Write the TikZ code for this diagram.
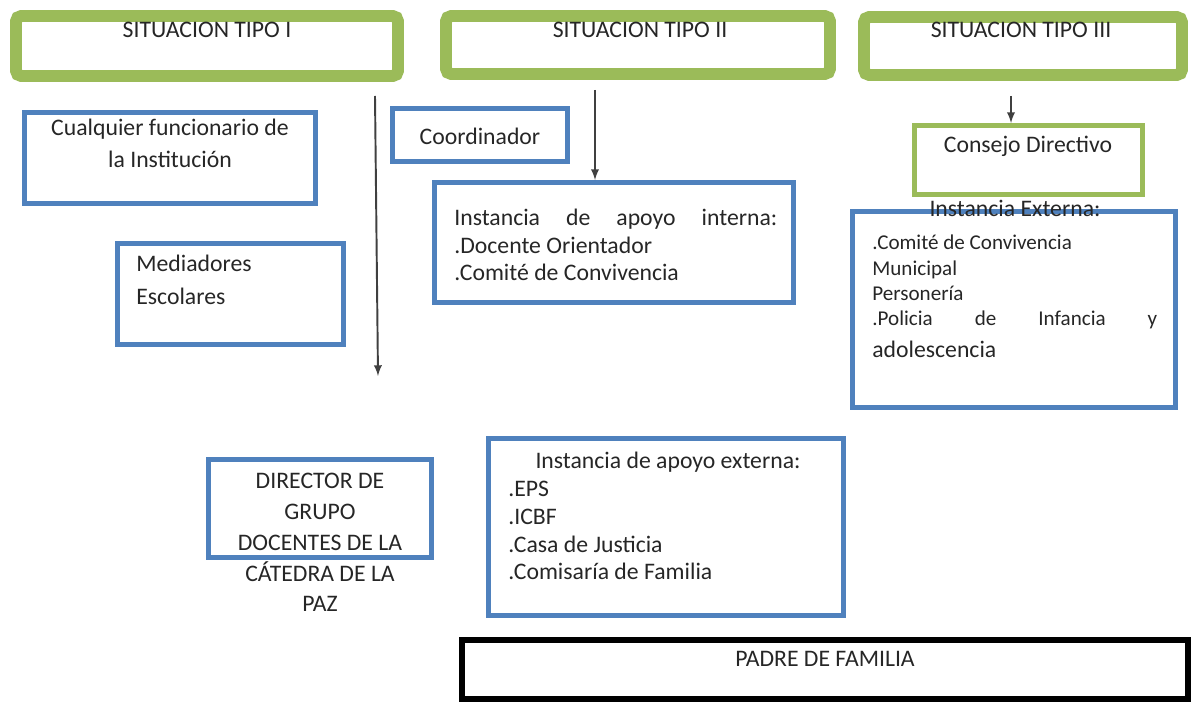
\documentclass[tikz,border=0pt]{standalone}
\usepackage{fontspec}
\setmainfont{Carlito}
\usetikzlibrary{arrows,fit}
\definecolor{tipogreen}{HTML}{9BBB59}
\definecolor{tipoblue}{HTML}{4F81BD}

\begin{document}
\begin{tikzpicture}[x=0.02cm,y=-0.02cm,
  tipo/.style={draw=tipogreen,line width=6.8pt,rounded corners=3pt,inner sep=0pt},
  caja/.style={draw=tipoblue,line width=2.8pt,inner sep=0pt},
  txt/.style={inner sep=0pt,text=black!85,font=\fontsize{13.5}{16}\selectfont},
  flecha/.style={draw=black!75,line width=1.1pt,-latex}]
  \useasboundingbox (0,0) rectangle (1191,702);

  % situaciones
  \node[tipo,fit={(16,16) (398,76)}] (tipo-1) {};
  \node[tipo,fit={(446,16) (830,74)}] (tipo-2) {};
  \node[tipo,fit={(864,17) (1182,75)}] (tipo-3) {};
  \node[txt,anchor=base] (tipo-1-txt) at (207,38) {SITUACION TIPO I};
  \node[txt,anchor=base] (tipo-2-txt) at (640,38) {SITUACION TIPO II};
  \node[txt,anchor=base] (tipo-3-txt) at (1021,38) {SITUACION TIPO III};

  % cajas
  \node[caja,fit={(24.5,112.5) (315.5,203.5)}] (funcionario) {};
  \node[caja,fit={(117.5,243.5) (343.5,344.5)}] (mediadores) {};
  \node[caja,fit={(392.5,108.5) (567.5,161.5)}] (coordinador) {};
  \node[caja,fit={(434.5,182.5) (793.5,302.5)}] (interna) {};
  \node[caja,draw=tipogreen,fit={(914.5,125.5) (1142.5,194.5)}] (consejo) {};
  \node[caja,fit={(852.5,211.5) (1175.5,407.5)}] (externa) {};
  \node[caja,fit={(208.5,459.5) (431.5,557.5)}] (director) {};
  \node[caja,fit={(488.5,438.5) (843.5,615.5)}] (apoyo-ext) {};
  \node[draw=black,line width=3.4pt,inner sep=0pt,fit={(462,640) (1188,699)}] (padre) {};

  % flechas
  \coordinate (f1-a) at (375,96);
  \coordinate (f1-b) at (378,376);
  \coordinate (f2) at (595,90);
  \coordinate (f3) at (1011,96);
  \draw[flecha] (f1-a) -- (f1-b);
  \draw[flecha] (f2) -- (f2 |- interna.north);
  \draw[flecha] (f3) -- (f3 |- consejo.north);

  % textos (base = ultima linea)
  \node[txt,align=center,anchor=base,font=\fontsize{13.5}{18.7}\selectfont] (funcionario-txt) at (170,168)
    {Cualquier funcionario de\\la Institución};
  \node[txt,align=left,anchor=base west,font=\fontsize{13.5}{19.3}\selectfont] (mediadores-txt) at (136,305)
    {Mediadores\\Escolares};
  \node[txt,anchor=base] (coordinador-txt) at (480,145) {Coordinador};
  \node[txt,align=left,anchor=base west,font=\fontsize{13.5}{15.9}\selectfont] (interna-txt) at (454,281)
    {\makebox[6.46cm][s]{Instancia de apoyo interna:}\\.Docente Orientador\\.Comité de Convivencia};
  \node[txt,anchor=base] (consejo-txt) at (1028,153) {Consejo Directivo};
  \node[txt,anchor=base] (externa-txt) at (1015,217) {Instancia Externa:};
  \node[txt,align=left,anchor=base west,font=\fontsize{12}{14.5}\selectfont] (externa-lista) at (872,326)
    {.Comité de Convivencia\\Municipal\\Personería\\\makebox[5.7cm][s]{.Policia de Infancia y}};
  \node[txt,anchor=base west] (externa-fin) at (872,358) {adolescencia};
  \node[txt,align=center,anchor=base,font=\fontsize{13.5}{17.6}\selectfont] (director-txt) at (320,612)
    {DIRECTOR DE\\GRUPO\\DOCENTES DE LA\\CÁTEDRA DE LA\\PAZ};
  \node[txt,anchor=base] (apoyo-ext-txt) at (668,469) {Instancia de apoyo externa:};
  \node[txt,align=left,anchor=base west,font=\fontsize{13.5}{15.9}\selectfont] (apoyo-ext-lista) at (508,580)
    {.EPS\\.ICBF\\.Casa de Justicia\\.Comisaría de Familia};
  \node[txt,anchor=base] (padre-txt) at (825,666) {PADRE DE FAMILIA};
\end{tikzpicture}
\end{document}
